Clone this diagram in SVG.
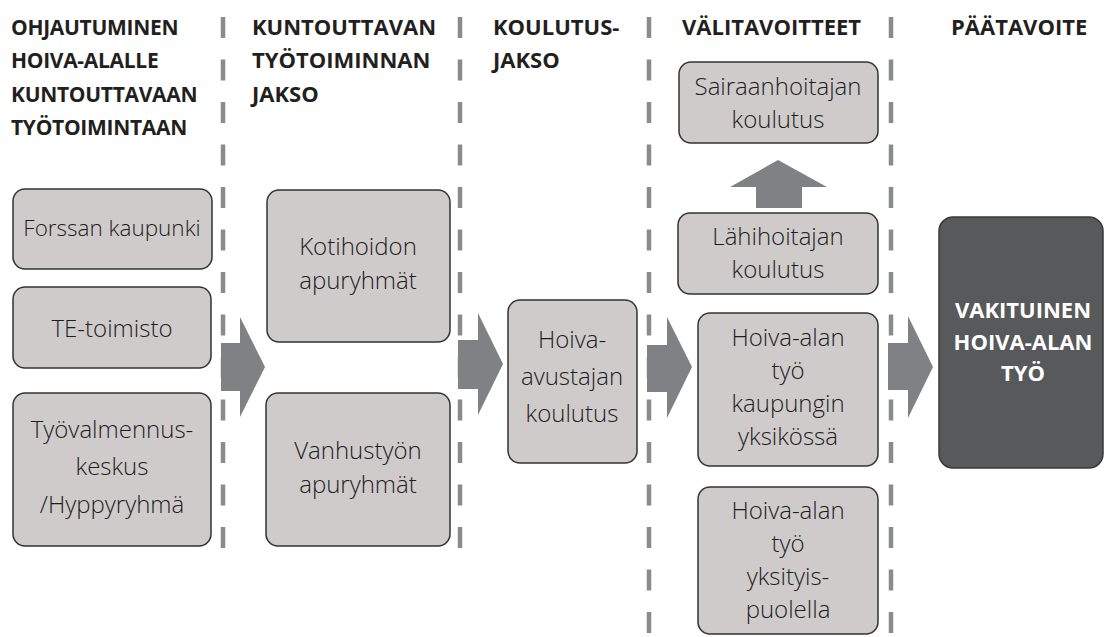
<svg xmlns="http://www.w3.org/2000/svg" width="1105" height="637" viewBox="0 0 1105 637">
<style>
.bg{fill:#ffffff}
.hd{font-family:"Open Sans","Liberation Sans",sans-serif;font-weight:700;font-size:22px;fill:#231f20}
.hd1{font-size:21px;letter-spacing:-0.3px}
.box{fill:#cfcbca;stroke:#333333;stroke-width:1.5}
.dark{fill:#58595b;stroke:#3a3a3a;stroke-width:1.5}
.tx{font-family:"Open Sans","Liberation Sans",sans-serif;font-weight:300;font-size:24px;fill:#1e1e1e;text-anchor:middle}
.sm{font-size:22.5px}
.wt{font-family:"Open Sans","Liberation Sans",sans-serif;font-weight:700;font-size:22px;fill:#ffffff;text-anchor:middle}
.dash{stroke:#8a8b8d;stroke-width:4.5;stroke-dasharray:21 21.5;fill:none}
.arr{fill:#808184}
</style>
<rect class="bg" x="0" y="0" width="1105" height="637"/>
<g id="headings">
<text class="hd hd1" x="11" y="35">OHJAUTUMINEN</text>
<text class="hd hd1" x="11" y="68">HOIVA-ALALLE</text>
<text class="hd hd1" x="11" y="102">KUNTOUTTAVAAN</text>
<text class="hd hd1" x="11" y="135">TYÖTOIMINTAAN</text>
<text class="hd" x="252" y="35">KUNTOUTTAVAN</text>
<text class="hd" x="252" y="68">TYÖTOIMINNAN</text>
<text class="hd" x="252" y="102">JAKSO</text>
<text class="hd" x="493" y="35">KOULUTUS-</text>
<text class="hd" x="493" y="68">JAKSO</text>
<text class="hd" x="682" y="35">VÄLITAVOITTEET</text>
<text class="hd" x="951" y="35">PÄÄTAVOITE</text>
</g>
<g id="dividers">
<line class="dash" x1="223" y1="17" x2="223" y2="548"/>
<line class="dash" x1="460" y1="17" x2="460" y2="548"/>
<line class="dash" x1="649" y1="17" x2="649" y2="637"/>
<line class="dash" x1="891" y1="17" x2="891" y2="637"/>
</g>
<g id="forssan">
<rect class="box" x="13" y="189" width="199" height="80" rx="12"/>
<text class="tx sm" x="112" y="236">Forssan kaupunki</text>
</g>
<g id="te">
<rect class="box" x="13" y="287" width="198" height="81" rx="12"/>
<text class="tx" x="112" y="337">TE-toimisto</text>
</g>
<g id="tyovalmennus">
<rect class="box" x="13" y="393" width="198" height="153" rx="12"/>
<text class="tx" x="112" y="438">Työvalmennus-</text>
<text class="tx" x="112" y="475">keskus</text>
<text class="tx" x="112" y="513">/Hyppyryhmä</text>
</g>
<g id="kotihoidon">
<rect class="box" x="267" y="190" width="183" height="152" rx="12"/>
<text class="tx" x="358" y="255">Kotihoidon</text>
<text class="tx" x="358" y="289">apuryhmät</text>
</g>
<g id="vanhustyon">
<rect class="box" x="266" y="393" width="184" height="153" rx="12"/>
<text class="tx" x="358" y="459">Vanhustyön</text>
<text class="tx" x="358" y="493">apuryhmät</text>
</g>
<g id="hoiva-avustajan">
<rect class="box" x="508" y="300" width="129" height="163" rx="12"/>
<text class="tx" x="572" y="348">Hoiva-</text>
<text class="tx" x="572" y="385">avustajan</text>
<text class="tx" x="572" y="422">koulutus</text>
</g>
<g id="sairaanhoitajan">
<rect class="box" x="679" y="62" width="199" height="81" rx="12"/>
<text class="tx" x="778" y="95">Sairaanhoitajan</text>
<text class="tx" x="778" y="128">koulutus</text>
</g>
<g id="lahihoitajan">
<rect class="box" x="678" y="213" width="200" height="81" rx="12"/>
<text class="tx" x="778" y="245">Lähihoitajan</text>
<text class="tx" x="778" y="278">koulutus</text>
</g>
<g id="kaupungin">
<rect class="box" x="698" y="313" width="180" height="153" rx="12"/>
<text class="tx" x="788" y="346">Hoiva-alan</text>
<text class="tx" x="788" y="379">työ</text>
<text class="tx" x="788" y="412">kaupungin</text>
<text class="tx" x="788" y="445">yksikössä</text>
</g>
<g id="yksityis">
<rect class="box" x="698" y="487" width="180" height="147" rx="12"/>
<text class="tx" x="788" y="519">Hoiva-alan</text>
<text class="tx" x="788" y="552">työ</text>
<text class="tx" x="788" y="585">yksityis-</text>
<text class="tx" x="788" y="618">puolella</text>
</g>
<g id="vakituinen">
<rect class="dark" x="939" y="217" width="164" height="251" rx="14"/>
<text class="wt" x="1023" y="318">VAKITUINEN</text>
<text class="wt" x="1023" y="350">HOIVA-ALAN</text>
<text class="wt" x="1023" y="381">TYÖ</text>
</g>
<g id="connectors">
<path class="arr" d="M221,343 H240 V317 L265,367 L240,417 V391 H221 Z"/>
<path class="arr" d="M458,340 H478 V313 L503,364 L478,415 V389 H458 Z"/>
<path class="arr" d="M647,345 H667 V317 L692,367 L667,418 V392 H647 Z"/>
<path class="arr" d="M888,343 H908 V316 L933,367 L908,418 V390 H888 Z"/>
<path class="arr" d="M756,208 V187 H730 L778,160 L827,187 H802 V208 Z"/>
</g>
</svg>
